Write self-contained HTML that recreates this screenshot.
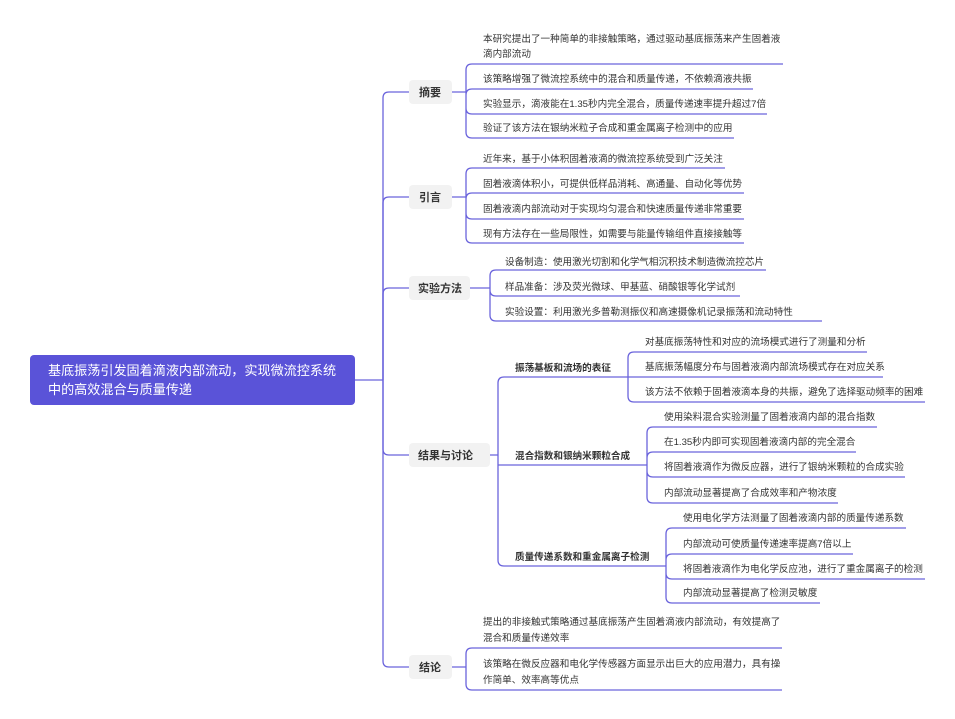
<!DOCTYPE html>
<html><head><meta charset="utf-8"><style>
html,body{margin:0;padding:0;background:#fff;}
svg{display:block;}
text{font-family:"Liberation Sans","Noto Sans CJK SC",sans-serif;font-size:9.6px;fill:#333;}
.b{font-weight:bold;font-size:11px;}
.s{font-weight:bold;font-size:9.6px;}
.l{fill:none;stroke:#6a63dc;stroke-width:1.3;}
</style></head><body>
<svg width="955" height="719" viewBox="0 0 955 719">
<path class="l" d="M355,380 H383"/>
<path class="l" d="M383,380 V98 Q383,92 389,92 H409"/>
<path class="l" d="M383,380 V203 Q383,197 389,197 H409"/>
<path class="l" d="M383,380 V294 Q383,288 389,288 H409"/>
<path class="l" d="M383,380 V449 Q383,455 389,455 H409"/>
<path class="l" d="M383,380 V661 Q383,667 389,667 H409"/>
<rect x="30" y="355" width="325" height="50" rx="4" fill="#5a53d8"/>
<text x="48" y="375" style="fill:#fff;font-size:13.1px">基底振荡引发固着滴液内部流动，实现微流控系统</text>
<text x="48" y="394" style="fill:#fff;font-size:13.1px">中的高效混合与质量传递</text>
<rect x="409" y="80" width="43" height="24" rx="4" fill="#f2f2f2"/><text class="b" x="419" y="96">摘要</text>
<rect x="409" y="185" width="43" height="24" rx="4" fill="#f2f2f2"/><text class="b" x="419" y="201">引言</text>
<rect x="409" y="276" width="61" height="24" rx="4" fill="#f2f2f2"/><text class="b" x="418" y="292">实验方法</text>
<rect x="409" y="443" width="81" height="24" rx="4" fill="#f2f2f2"/><text class="b" x="418" y="459">结果与讨论</text>
<rect x="409" y="655" width="43" height="24" rx="4" fill="#f2f2f2"/><text class="b" x="419" y="671">结论</text>
<path class="l" d="M452,92 H466 M466,92 V70 Q466,64 472,64 H783 M466,92 V95 Q466,89 472,89 H753 M466,92 V108 Q466,114 472,114 H767 M466,92 V132 Q466,138 472,138 H734"/>
<text x="483" y="42">本研究提出了一种简单的非接触策略，通过驱动基底振荡来产生固着液</text>
<text x="483" y="57">滴内部流动</text>
<text x="483" y="82">该策略增强了微流控系统中的混合和质量传递，不依赖滴液共振</text>
<text x="483" y="107">实验显示，滴液能在1.35秒内完全混合，质量传递速率提升超过7倍</text>
<text x="483" y="131">验证了该方法在银纳米粒子合成和重金属离子检测中的应用</text>
<path class="l" d="M452,197 H466 M466,197 V174 Q466,168 472,168 H725 M466,197 V199 Q466,193 472,193 H744 M466,197 V213 Q466,219 472,219 H744 M466,197 V237 Q466,243 472,243 H744"/>
<text x="483" y="162">近年来，基于小体积固着液滴的微流控系统受到广泛关注</text>
<text x="483" y="187">固着液滴体积小，可提供低样品消耗、高通量、自动化等优势</text>
<text x="483" y="212">固着液滴内部流动对于实现均匀混合和快速质量传递非常重要</text>
<text x="483" y="237">现有方法存在一些局限性，如需要与能量传输组件直接接触等</text>
<path class="l" d="M470,288 H490 M490,288 V276 Q490,270 496,270 H766 M490,288 V290 Q490,296 496,296 H740 M490,288 V315 Q490,321 496,321 H822"/>
<text x="505" y="265">设备制造：使用激光切割和化学气相沉积技术制造微流控芯片</text>
<text x="505" y="290">样品准备：涉及荧光微球、甲基蓝、硝酸银等化学试剂</text>
<text x="505" y="315">实验设置：利用激光多普勒测振仪和高速摄像机记录振荡和流动特性</text>
<path class="l" d="M490,455 H498 M498,455 V383 Q498,377 504,377 H628 M498,455 V465 H647 M498,455 V560 Q498,566 504,566 H666"/>
<text class="s" x="515" y="371">振荡基板和流场的表征</text>
<text class="s" x="515" y="459">混合指数和银纳米颗粒合成</text>
<text class="s" x="515" y="560">质量传递系数和重金属离子检测</text>
<path class="l" d="M628,377 V358 Q628,352 634,352 H867 M628,377 H883 M628,377 V396 Q628,402 634,402 H925"/>
<text x="645" y="345">对基底振荡特性和对应的流场模式进行了测量和分析</text>
<text x="645" y="370">基底振荡幅度分布与固着液滴内部流场模式存在对应关系</text>
<text x="645" y="395">该方法不依赖于固着液滴本身的共振，避免了选择驱动频率的困难</text>
<path class="l" d="M647,465 V433 Q647,427 653,427 H877 M647,465 V458 Q647,452 653,452 H856 M647,465 V471 Q647,477 653,477 H905 M647,465 V497 Q647,503 653,503 H838"/>
<text x="664" y="420">使用染料混合实验测量了固着液滴内部的混合指数</text>
<text x="664" y="445">在1.35秒内即可实现固着液滴内部的完全混合</text>
<text x="664" y="470">将固着液滴作为微反应器，进行了银纳米颗粒的合成实验</text>
<text x="664" y="496">内部流动显著提高了合成效率和产物浓度</text>
<path class="l" d="M666,566 V534 Q666,528 672,528 H906 M666,566 V560 Q666,554 672,554 H853 M666,566 V573 Q666,579 672,579 H925 M666,566 V597 Q666,603 672,603 H820"/>
<text x="683" y="521">使用电化学方法测量了固着液滴内部的质量传递系数</text>
<text x="683" y="547">内部流动可使质量传递速率提高7倍以上</text>
<text x="683" y="572">将固着液滴作为电化学反应池，进行了重金属离子的检测</text>
<text x="683" y="596">内部流动显著提高了检测灵敏度</text>
<path class="l" d="M452,667 H466 M466,667 V654 Q466,648 472,648 H782 M466,667 V684 Q466,690 472,690 H782"/>
<text x="483" y="625">提出的非接触式策略通过基底振荡产生固着滴液内部流动，有效提高了</text>
<text x="483" y="641">混合和质量传递效率</text>
<text x="483" y="667">该策略在微反应器和电化学传感器方面显示出巨大的应用潜力，具有操</text>
<text x="483" y="683">作简单、效率高等优点</text>
</svg>
</body></html>
